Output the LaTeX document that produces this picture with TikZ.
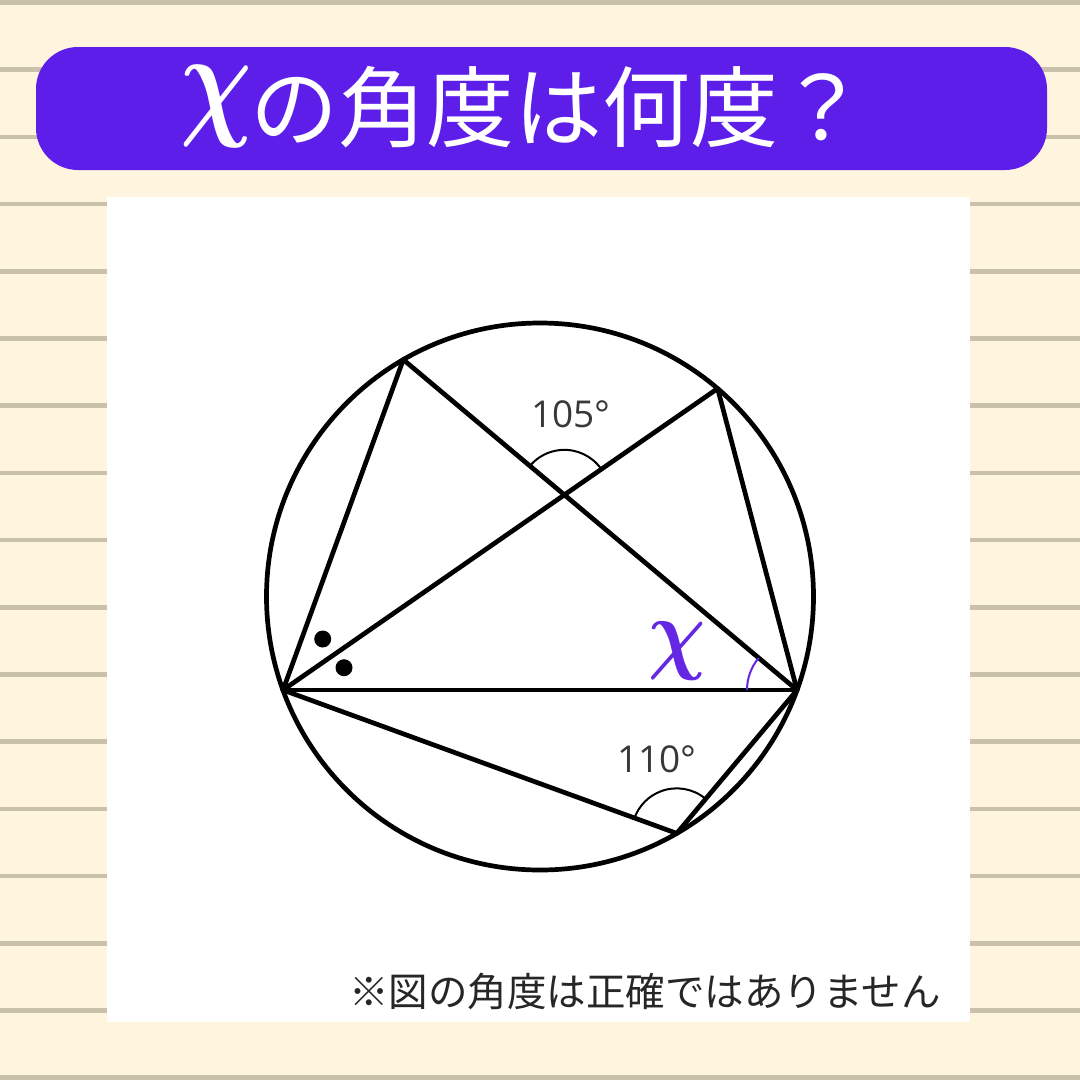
\documentclass[tikz,border=0pt]{standalone}
\usepackage{fontspec}
\usepackage{graphicx}
\usepackage{bm}
\setmainfont{Open Sans}
\newfontfamily\jp{Noto Sans CJK JP}
\usetikzlibrary{angles}
\definecolor{bgcream}{HTML}{FFF5DF}
\definecolor{bgline}{HTML}{C9C1AA}
\definecolor{banner}{HTML}{5E1EEA}
\definecolor{xpurple}{HTML}{6527E3}
\definecolor{lbl}{HTML}{383838}
\tikzset{
  rule/.style={draw=bgline, line width=4.5pt},
  geo/.style={line width=4.7pt, line join=round, line cap=round},
  anglemark/.style={draw, line width=2pt, angle radius=45pt},
  xmark/.style={draw=xpurple, line width=2pt, angle radius=50pt},
  degree/.style={font=\fontsize{37}{40}\selectfont, text=lbl, inner sep=0pt},
  dotmark/.style={circle, fill=black, minimum size=17pt, inner sep=0pt},
}
\begin{document}
\begin{tikzpicture}[x=1pt,y=1pt]
\useasboundingbox (0,0) rectangle (1080,-1080);
\fill[bgcream] (0,0) rectangle (1080,-1080);
\foreach \i in {0,...,16} {
  \draw[rule] (0,{-2.5-67.2*\i}) -- (1080,{-2.5-67.2*\i});
}
% banner
\fill[banner, rounded corners=42pt] (36,-47) rectangle (1047,-170);
\node[text=white, xscale=10, yscale=12.8, transform shape, inner sep=0pt] (tchi) at (216,-106) {$\bm{\chi}$};
\node[text=white, anchor=west, inner sep=0pt] (title) at (250,-107) {\jp\fontsize{88}{96}\selectfont の角度は何度？};
% panel
\fill[white] (107,-197) rectangle (970,-1022);
% geometry
\coordinate (O) at (540,-596.5);
\draw[geo] (O) circle (273.5);
\path (O) ++(120:273.5) coordinate (A);
\path (O) ++(49.5:273.5) coordinate (B);
\path (O) ++(200:273.5) coordinate (C);
\path (O) ++(-20:273.5) coordinate (D);
\path (O) ++(-60:273.5) coordinate (E);
\coordinate (P) at (intersection of A--D and C--B);
\draw[geo] (A) -- (C);
\draw[geo] (A) -- (D);
\draw[geo] (C) -- (B);
\draw[geo] (B) -- (D);
\draw[geo] (C) -- (D);
\draw[geo] (C) -- (E);
\draw[geo] (E) -- (D);
\pic[anglemark] {angle = B--P--A};
\pic[anglemark] {angle = D--E--C};
\pic[xmark] {angle = A--D--C};
\node[degree] (l105) at (571,-414) {105°};
\node[degree] (l110) at (657,-759) {110°};
\node[text=xpurple, xscale=8, yscale=9.1, transform shape, inner sep=0pt] (xlabel) at (677,-651) {$\bm{\chi}$};
\node[dotmark] (dot1) at (322.7,-639) {};
\node[dotmark] (dot2) at (344,-667.7) {};
% note
\node[anchor=west, inner sep=0pt, text=black!85] (note) at (349,-992) {\jp\fontsize{39.5}{46}\selectfont ※図の角度は正確ではありません};
\end{tikzpicture}
\end{document}
